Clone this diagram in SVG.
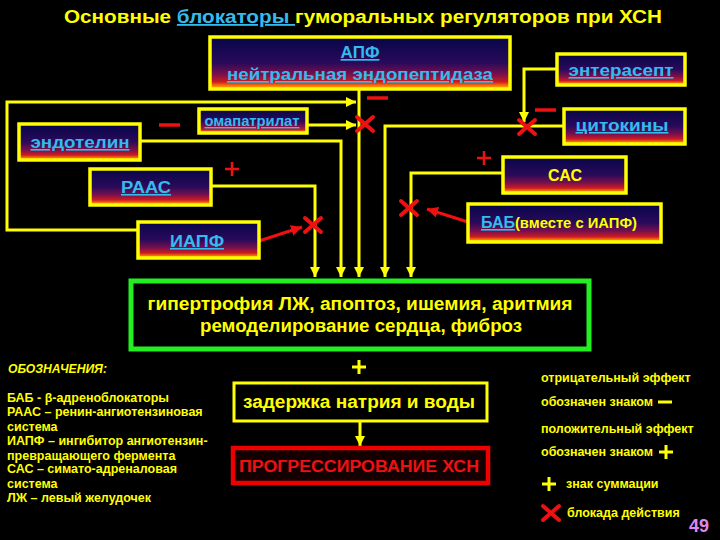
<svg xmlns="http://www.w3.org/2000/svg" width="720" height="540" viewBox="0 0 720 540">
<defs>
<linearGradient id="g" x1="0" y1="0" x2="0" y2="1">
<stop offset="0" stop-color="#06064a"/>
<stop offset="0.5" stop-color="#2a0a5a"/>
<stop offset="0.72" stop-color="#7a104c"/>
<stop offset="0.86" stop-color="#cc1a22"/>
<stop offset="0.95" stop-color="#ff8800"/>
<stop offset="1" stop-color="#ffcc00"/>
</linearGradient>
<marker id="ay" viewBox="0 0 10 10" refX="10" refY="5" markerWidth="10" markerHeight="10" markerUnits="userSpaceOnUse" orient="auto">
<path d="M0,0 L10,5 L0,10 z" fill="#ffff00"/>
</marker>
<marker id="ar" viewBox="0 0 10 10" refX="10" refY="5" markerWidth="11" markerHeight="11" markerUnits="userSpaceOnUse" orient="auto">
<path d="M0,0 L10,5 L0,10 z" fill="#ee1111"/>
</marker>
<g id="x"><path d="M-8,-7 L8,7 M-8,7 L8,-7" stroke="#ee1111" stroke-width="4" stroke-linecap="round"/></g>
<g id="rp"><path d="M-7,0 H7 M0,-7 V7" stroke="#ee1111" stroke-width="2.5"/></g>
<g id="yp"><path d="M-7,0 H7 M0,-7 V7" stroke="#ffff00" stroke-width="3"/></g>
</defs>
<style>
text { font-family: "Liberation Sans", Arial, sans-serif; font-weight: bold; }
.box { stroke: #ffff00; stroke-width: 3.5; fill: url(#g); }
.lbl { fill: #33bbee; text-decoration: underline; text-anchor: middle; font-size: 16px; }
.yt { fill: #ffff00; }
.conn { stroke: #ffff00; stroke-width: 3; fill: none; }
.red { stroke: #ee1111; stroke-width: 3; fill: none; }
.minus { stroke: #ee1111; stroke-width: 3.5; }
.leg { fill: #ffff00; font-size: 12.5px; }
</style>
<rect width="720" height="540" fill="#000000"/>

<text x="64" y="23" font-size="18" textLength="598" lengthAdjust="spacingAndGlyphs" class="yt">Основные <tspan fill="#33bbee" text-decoration="underline">блокаторы </tspan>гуморальных регуляторов при ХСН</text>

<g id="connectors">
<path class="conn" d="M138,230 H7 V102 H356" marker-end="url(#ay)"/>
<path class="conn" d="M307,125 H356" marker-end="url(#ay)"/>
<path class="conn" d="M359,89 V277" marker-end="url(#ay)"/>
<path class="conn" d="M140,141 H341 V277" marker-end="url(#ay)"/>
<path class="conn" d="M211,186 H315 V277" marker-end="url(#ay)"/>
<path class="conn" d="M564,126 H385 V277" marker-end="url(#ay)"/>
<path class="conn" d="M557,69 H524 V122" marker-end="url(#ay)"/>
<path class="conn" d="M503,173 H411 V277" marker-end="url(#ay)"/>
<path class="conn" d="M360,421 V446" marker-end="url(#ay)"/>
<path class="red" d="M259,241 L302,227" marker-end="url(#ar)"/>
<path class="red" d="M468,222 L427,209" marker-end="url(#ar)"/>
</g>

<g id="marks">
<use href="#x" x="365" y="124"/>
<use href="#x" x="527" y="127"/>
<use href="#x" x="313" y="225"/>
<use href="#x" x="409" y="208"/>
<line class="minus" x1="367" y1="98" x2="388" y2="98"/>
<line class="minus" x1="535" y1="110" x2="556" y2="110"/>
<line class="minus" x1="159" y1="125" x2="180" y2="125"/>
<use href="#rp" x="232" y="169"/>
<use href="#rp" x="484" y="158"/>
<use href="#yp" x="359" y="367"/>
</g>

<g id="apf">
<rect class="box" x="210" y="37" width="300" height="52"/>
<text class="lbl" x="360" y="58" style="font-size:17px">АПФ</text>
<text class="lbl" x="360" y="80" style="font-size:17px" textLength="266" lengthAdjust="spacingAndGlyphs">нейтральная эндопептидаза</text>
</g>
<g id="enterasept">
<rect class="box" x="557" y="54" width="128" height="31"/>
<text class="lbl" x="621" y="76" textLength="105" lengthAdjust="spacingAndGlyphs">энтерасепт</text>
</g>
<g id="cytokines">
<rect class="box" x="564" y="109" width="121" height="35"/>
<text class="lbl" x="622" y="131" textLength="93" lengthAdjust="spacingAndGlyphs">цитокины</text>
</g>
<g id="omapatrilat">
<rect class="box" x="199" y="109" width="108" height="24"/>
<text class="lbl" x="252" y="126" style="font-size:14px" textLength="95" lengthAdjust="spacingAndGlyphs">омапатрилат</text>
</g>
<g id="endothelin">
<rect class="box" x="19" y="124" width="121" height="36"/>
<text class="lbl" x="80" y="148" textLength="99" lengthAdjust="spacingAndGlyphs">эндотелин</text>
</g>
<g id="raas">
<rect class="box" x="90" y="169" width="121" height="36"/>
<text class="lbl" x="146" y="193" textLength="50" lengthAdjust="spacingAndGlyphs">РААС</text>
</g>
<g id="iapf">
<rect class="box" x="138" y="222" width="121" height="36"/>
<text class="lbl" x="197" y="247" textLength="54" lengthAdjust="spacingAndGlyphs">ИАПФ</text>
</g>
<g id="sas">
<rect class="box" x="503" y="157" width="123" height="36"/>
<text x="565" y="181" class="yt" font-size="16" text-anchor="middle">САС</text>
</g>
<g id="bab">
<rect class="box" x="468" y="204" width="193" height="38"/>
<text x="481" y="228" font-size="16"><tspan fill="#33bbee" text-decoration="underline">БАБ</tspan><tspan class="yt" font-size="14" textLength="122" lengthAdjust="spacingAndGlyphs">(вместе с ИАПФ)</tspan></text>
</g>

<g id="effects">
<rect x="131" y="281" width="458" height="68" fill="#000000" stroke="#22ee22" stroke-width="5"/>
<text x="360" y="310" class="yt" font-size="18" text-anchor="middle" textLength="425" lengthAdjust="spacingAndGlyphs">гипертрофия ЛЖ, апоптоз, ишемия, аритмия</text>
<text x="361" y="332" class="yt" font-size="18" text-anchor="middle" textLength="322" lengthAdjust="spacingAndGlyphs">ремоделирование сердца, фиброз</text>
</g>
<g id="retention">
<rect x="234" y="383" width="253" height="38" fill="#000000" stroke="#ffff00" stroke-width="3"/>
<text x="359" y="408" class="yt" font-size="18" text-anchor="middle" textLength="232" lengthAdjust="spacingAndGlyphs">задержка натрия и воды</text>
</g>
<g id="progression">
<rect x="233" y="448" width="255" height="35" fill="#140000" stroke="#ee0000" stroke-width="4.5"/>
<text x="359" y="472" fill="#ee1111" font-size="16" text-anchor="middle" textLength="240" lengthAdjust="spacingAndGlyphs">ПРОГРЕССИРОВАНИЕ ХСН</text>
</g>

<g id="legend-left">
<text x="8" y="373" class="leg" style="font-size:12px" font-style="italic" textLength="99" lengthAdjust="spacingAndGlyphs">ОБОЗНАЧЕНИЯ:</text>
<text x="7" y="402" class="leg">БАБ - β-адреноблокаторы</text>
<text x="7" y="416" class="leg">РААС – ренин-ангиотензиновая</text>
<text x="7" y="431" class="leg">система</text>
<text x="7" y="445" class="leg">ИАПФ – ингибитор ангиотензин-</text>
<text x="7" y="460" class="leg">превращающего фермента</text>
<text x="7" y="473" class="leg">САС – симато-адреналовая</text>
<text x="7" y="488" class="leg">система</text>
<text x="7" y="502" class="leg">ЛЖ – левый желудочек</text>
</g>

<g id="legend-right">
<text x="541" y="382" class="leg">отрицательный эффект</text>
<text x="541" y="406" class="leg">обозначен знаком</text>
<line x1="658" y1="402" x2="672" y2="402" stroke="#ffff00" stroke-width="3"/>
<text x="541" y="433" class="leg">положительный эффект</text>
<text x="541" y="456" class="leg">обозначен знаком</text>
<use href="#yp" x="666" y="452"/>
<use href="#yp" x="549" y="484"/>
<text x="566" y="488" class="leg">знак суммации</text>
<use href="#x" x="551" y="513"/>
<text x="567" y="517" class="leg">блокада действия</text>
</g>
<text x="689" y="532" fill="#dd88ee" font-size="18">49</text>
</svg>
